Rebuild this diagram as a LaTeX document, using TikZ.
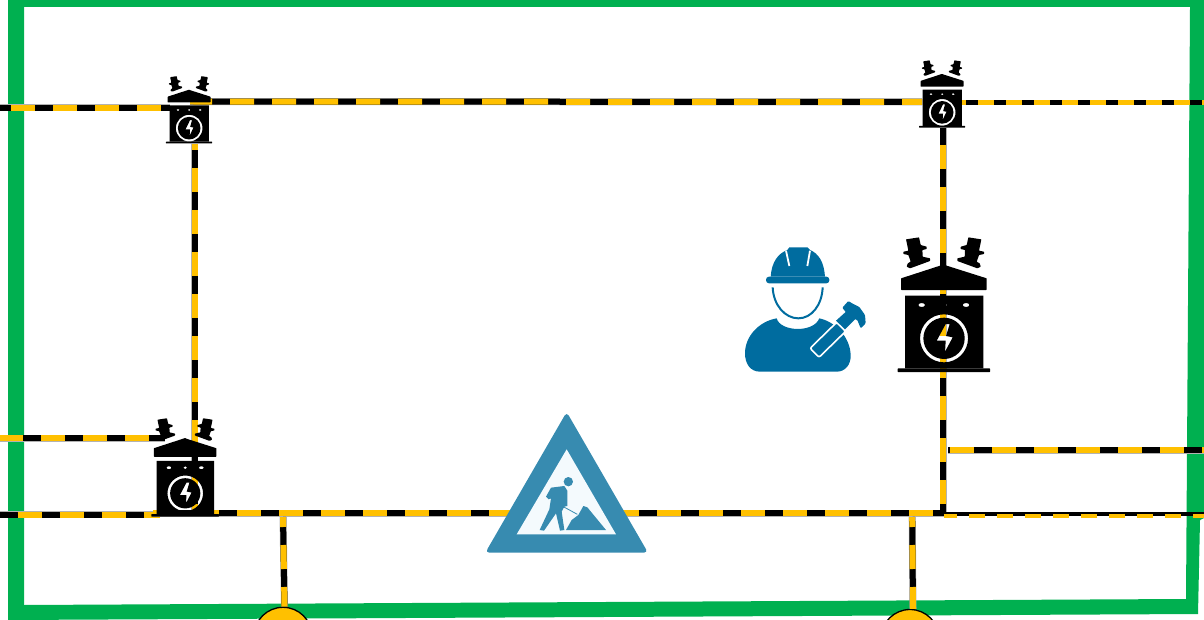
\documentclass[tikz,border=0pt]{standalone}
\definecolor{cy}{HTML}{FFC000}
\definecolor{gr}{HTML}{00B050}
\definecolor{wk}{HTML}{006C9F}
\definecolor{sg}{HTML}{378BB0}
\definecolor{sgin}{HTML}{F4FAFD}
\newcommand{\insulatorshape}{%
    \fill[black,rounded corners=.5pt] (-113,-398)--(-74,-404)--(-69,-381)--(-51,-376)--(-51,-369)--(-64,-366)--(-63,-346)--(-41,-341)--(-41,-333)--(-101,-311)--(-111,-316)--(-108,-326)--(-99,-331)--(-106,-351)--(-121,-354)--(-121,-361)--(-106,-364)--cycle;}
\newcommand{\ringset}[3]{\def\ringY{#1}\def\ringO{#2}\def\ringI{#3}}
\tikzset{
  cable/.style={line width=6pt,draw=black,
    preaction={draw=gray!60,line width=7pt},
    postaction={draw=cy,dash pattern=on 24pt off 18pt,dash phase=#1}},
  thincable/.style={line width=4.5pt,draw=black,
    preaction={draw=gray!60,line width=5.2pt},
    postaction={draw=cy,dash pattern=on 16pt off 12pt,dash phase=#1}},
  darkline/.style={line width=3.8pt,draw=black},
  sidedash/.style={line width=3.8pt,draw=cy,dash pattern=on 16pt off 12pt,dash phase=#1},
  xfmr/.pic={
    \insulatorshape
    \begin{scope}[xscale=-1]\insulatorshape\end{scope}
    \fill[black,rounded corners=.5pt] (-128,-281)--(-11,-319)--(0,-323)--(9,-319)--(129,-281)--(129,-246)--(-128,-246)--cycle;
    \fill[black,even odd rule] (-116,-229) rectangle (119,-11)
      (1,-\ringY) circle[radius=\ringO] (1,-\ringY) circle[radius=\ringI]
      (6,{-\ringY-43*\ringO/72})--(18,{-\ringY-43*\ringO/72})--(7,{-\ringY-7*\ringO/72})--(27,{-\ringY-3*\ringO/72})--(4,{-\ringY+40*\ringO/72})--(6,{-\ringY+7*\ringO/72})--(-21,{-\ringY+7*\ringO/72})--cycle
      (-66,-201) ellipse[x radius=10,y radius=6]
      (1,-201) ellipse[x radius=8,y radius=6]
      (67,-201) ellipse[x radius=10,y radius=6];
    \fill[black,rounded corners=.5pt] (-138,-11) rectangle (139,0);
  },
  tapnode/.style={circle,draw=black,line width=1.3pt,fill=cy,minimum size=58pt,inner sep=0pt}
}
\begin{document}
\begin{tikzpicture}[x=1pt,y=-1pt]
\useasboundingbox (0,0) rectangle (1204,620);
\clip (0,0) rectangle (1204,620);
% green boundary
\fill[gr,even odd rule] (8,-2)--(1206,-2)--(1206,510)--(1204,518)--(1200,520)--(1198,614)--(8,620)--cycle
  (24,7)--(1190,7)--(1186,599)--(24,605)--cycle;
% named ends
\coordinate (la) at (0,107.7);      \coordinate (lb) at (170,107.7);
\coordinate (ta) at (190,101.5);    \coordinate (tb) at (922,102);
\coordinate (ra) at (962,102.3);    \coordinate (rb) at (1204,102.3);
\coordinate (va) at (194.6,144);    \coordinate (vb) at (194.6,512);
\coordinate (ma) at (0,438);        \coordinate (mb) at (165,438);
\coordinate (ba) at (0,514.7);      \coordinate (bb) at (160,514.7);
\coordinate (ca) at (153,513);      \coordinate (cb) at (946,513);
\coordinate (ua) at (943.3,128);    \coordinate (ub) at (943.3,268);
\coordinate (ub2) at (943.3,336);   \coordinate (uc) at (943.3,354);
\coordinate (ud) at (943.3,512);
\coordinate (sa) at (948.3,450);    \coordinate (sb) at (1204,450);
\coordinate (ea) at (943,514.2);    \coordinate (eb) at (1204,514.2);
\coordinate (fa) at (944,516);      \coordinate (fb) at (1204,516);
\coordinate (da) at (283,517);      \coordinate (db) at (912.2,517);
% tap circles
\node[tapnode] (tapA) at (283,636.3) {};
\node[tapnode] (tapB) at (910,638.5) {};
% cables
\draw[cable=31] (la) -- (lb);
\draw[cable=2] (ta) -- (tb);
\draw[thincable=12] (ra) -- (rb);
\draw[cable=18] (va) -- (vb);
\draw[cable=1] (ma) -- (mb);
\draw[cable=24.5] (ba) -- (bb);
\draw[cable=0] (ca) -- (cb);
\draw[cable=25] (ua) -- (ub);
\draw[cable=40] (ub) -- (ub2);
\draw[cable=0] (uc) -- (ud);
\draw[cable=40] (sa) -- (sb);
\draw[darkline] (ea) -- (eb);
\draw[sidedash=3] (fa) -- (fb);
\draw[cable=14] (da) -- ([xshift=1.5pt]tapA.north);
\draw[cable=14] (db) -- ([xshift=3pt]tapB.north);
% transformers
\ringset{92}{80}{68}
\pic[scale=.1667] (tfTL) at (189,143.5) {xfmr};
\pic[scale=.1667] (tfTR) at (942,127.7) {xfmr};
\ringset{96}{73}{62}
\pic[scale=.2437] (tfBL) at (185,516.7) {xfmr};
\ringset{101}{72}{62}
\pic[scale=.3333] (tfBig) at (943.7,372) {xfmr};
% work sign
\begin{scope}[shift={(470,400)},scale=1/3]
  \fill[sg,rounded corners=4pt] (290,36)--(46,458)--(534,458)--cycle;
  \fill[sgin] (290,148)--(140,403)--(438,403)--cycle;
  \fill[sg] (295,245) circle[radius=14];
  \fill[sg] (228,290)--(243,263)--(283,258)--(292,272)--(292,318)--(283,320)--(275,335)--(283,390)--(270,392)--(258,340)--(222,392)--(209,390)--(238,328)--(243,295)--(236,298)--cycle;
  \draw[sg,line width=.8pt] (280,320)--(322,343);
  \fill[sg] (288,390)--(305,360)--(325,345)--(340,318)--(352,322)--(408,390)--cycle;
\end{scope}
% worker
\begin{scope}[shift={(730,230)},scale=1/3]
  % helmet
  \fill[wk] (122,140) .. controls (125,95) and (145,70) .. (172,60) -- (178,52) -- (232,52) -- (240,60) .. controls (265,70) and (282,95) .. (285,140) -- cycle;
  \fill[wk,rounded corners=3pt] (108,140) rectangle (298,160);
  \draw[white,line width=1.8pt] (168,62)--(178,108);
  \draw[white,line width=1.8pt] (240,62)--(232,108);
  % face
  \draw[wk,line width=2pt] (128,172) .. controls (130,225) and (165,265) .. (205,265) .. controls (245,265) and (276,225) .. (278,172);
  % body
  \fill[wk] (45,370) .. controls (45,320) and (85,275) .. (140,265) .. controls (150,305) and (250,310) .. (268,265) .. controls (315,275) and (360,320) .. (362,375) .. controls (363,405) and (345,425) .. (320,425) -- (90,425) .. controls (60,425) and (45,400) .. (45,370) -- cycle;
  % hammer handle
  \draw[white,line width=1.6pt,fill=wk,rounded corners=2pt] (320,277)--(240,355)--(267,382)--(347,304)--cycle;
  % hammer head
  \fill[wk,rounded corners=1pt] (337,233)--(355,213)--(368,221)--(388,231)--(405,255)--(407,280)--(392,295)--(382,270)--(360,263)--(350,250)--cycle;
  \fill[wk] (348,245)--(375,268)--(345,298)--(318,272)--cycle;
\end{scope}
\end{tikzpicture}
\end{document}
